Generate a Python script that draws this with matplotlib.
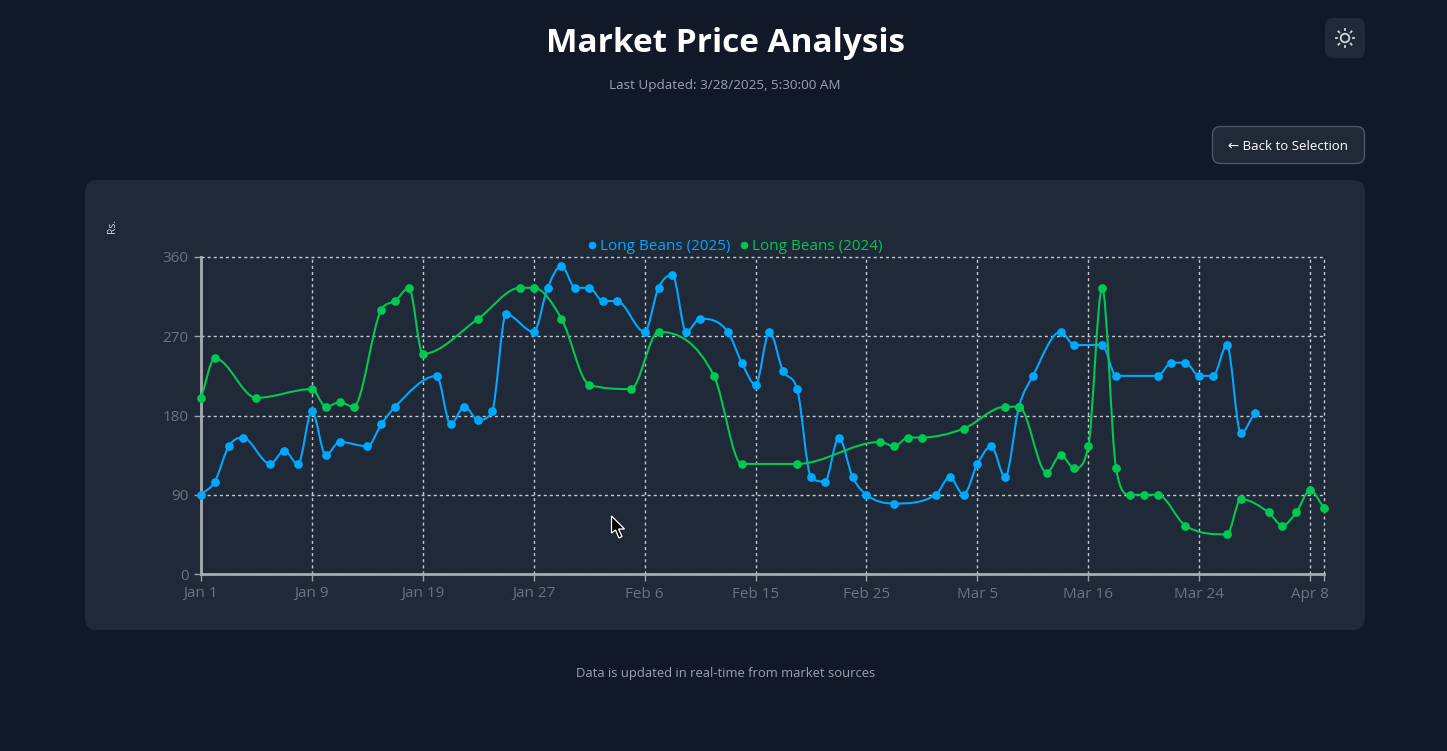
import numpy as np
import matplotlib
matplotlib.use('Agg')
import matplotlib.pyplot as plt
from matplotlib.lines import Line2D
from matplotlib.patches import FancyBboxPatch, PathPatch, Polygon, Circle
from matplotlib.path import Path

plt.rcParams['font.family'] = ['Open Sans', 'DejaVu Sans']

tick_pos = [0, 8, 16, 24, 32, 40, 48, 56, 64, 72, 80, 81]
tick_labels = ['Jan 1', 'Jan 9', 'Jan 19', 'Jan 27', 'Feb 6', 'Feb 15', 'Feb 25',
               'Mar 5', 'Mar 16', 'Mar 24', 'Apr 8', '']
y_ticks = [0, 90, 180, 270, 360]

price_2025 = [90, 105, 145, 155, None, 125, 140, 125, 185, 135,
              150, None, 145, 170, 190, None, None, 225, 170, 190,
              175, 185, 295, None, 275, 325, 350, 325, 325, 310,
              310, None, 275, 325, 340, 275, 290, None, 275, 240,
              215, 275, 230, 210, 110, 105, 155, 110, 90, None,
              80, None, None, 90, 110, 90, 125, 145, 110, 190,
              225, None, 275, 260, None, 260, 225, None, None, 225,
              240, 240, 225, 225, 260, 160, 183, None, None, None,
              None, None]
price_2024 = [200, 245, None, None, 200, None, None, None, 210, 190,
              195, 190, None, 300, 310, 325, 250, None, None, None,
              290, None, None, 325, 325, None, 290, None, 215, None,
              None, 210, None, 275, None, None, None, 225, None, 125,
              None, None, None, 125, None, None, None, None, None, 150,
              145, 155, 155, None, None, 165, None, None, 190, 190,
              None, 115, 135, 120, 145, 325, 120, 90, 90, 90,
              None, 55, None, None, 45, 85, None, 70, 55, 70,
              95, 75]

BLUE = '#00a8ff'
GREEN = '#00c853'
W, H = 1447, 751


def monotone_path(xs, ys):
    # monotone cubic, the way chart.js does it
    n = len(xs)
    dk = np.diff(ys) / np.diff(xs)
    m = np.zeros(n)
    m[0] = dk[0]
    m[-1] = dk[-1]
    for i in range(1, n - 1):
        if np.sign(dk[i - 1]) == np.sign(dk[i]):
            m[i] = (dk[i - 1] + dk[i]) / 2
    for i in range(n - 1):
        if dk[i] == 0:
            m[i] = m[i + 1] = 0
            continue
        a = m[i] / dk[i]
        b = m[i + 1] / dk[i]
        mag = a * a + b * b
        if mag > 9:
            tau = 3 / np.sqrt(mag)
            m[i] = a * tau * dk[i]
            m[i + 1] = b * tau * dk[i]
    verts = [(xs[0], ys[0])]
    codes = [Path.MOVETO]
    for i in range(n - 1):
        dx = (xs[i + 1] - xs[i]) / 3
        verts += [(xs[i] + dx, ys[i] + m[i] * dx),
                  (xs[i + 1] - dx, ys[i + 1] - m[i + 1] * dx),
                  (xs[i + 1], ys[i + 1])]
        codes += [Path.CURVE4, Path.CURVE4, Path.CURVE4]
    return Path(verts, codes)


def draw_series(ax, values, color, z):
    y = np.array(values, dtype=float)
    x = np.arange(len(y))
    keep = ~np.isnan(y)
    ax.add_patch(PathPatch(monotone_path(x[keep], y[keep]), fc='none', ec=color,
                           lw=1.5, clip_on=False, zorder=z))
    ax.plot(x[keep], y[keep], ls='none', marker='o', ms=6.3, color=color, mew=0,
            clip_on=False, zorder=z + 0.1)


fig = plt.figure(figsize=(W / 100, H / 100), dpi=100, facecolor='#111827')

# page furniture, in pixel coordinates
bg = fig.add_axes([0, 0, 1, 1], zorder=0)
bg.set_xlim(0, W)
bg.set_ylim(H, 0)
bg.axis('off')


def box(x0, y0, x1, y1, r, fc, ec='none'):
    bg.add_patch(FancyBboxPatch((x0 + r, y0 + r), x1 - x0 - 2 * r, y1 - y0 - 2 * r,
                                boxstyle=f'round,pad={r},rounding_size={r}',
                                fc=fc, ec=ec, lw=1))


box(85, 180, 1365, 630, 12, '#1f2937')
box(1325, 18, 1365, 58, 8, '#1f2937')
box(1212.5, 126.5, 1364.5, 163.5, 8, '#1f2937', '#4b5563')

bg.text(726, 43.5, 'Market Price Analysis', color='white', fontsize=24, fontweight='bold',
        ha='center', va='center')
bg.text(724.5, 86, 'Last Updated: 3/28/2025, 5:30:00 AM', color='#9ca3af', fontsize=9.7,
        ha='center', va='center')
bg.text(1288.5, 146.5, '← Back to Selection', color='white', fontsize=9.5,
        ha='center', va='center')
bg.text(725.5, 674, 'Data is updated in real-time from market sources', color='#9ca3af',
        fontsize=9.35, ha='center', va='center')
bg.text(112, 226, 'Rs.', color='#d1d5db', fontsize=7.5, rotation=90,
        ha='center', va='center')

# sun icon
bg.add_patch(Circle((1345, 38), 4.3, fc='none', ec='#d1d5db', lw=1.3))
for a in np.arange(8) * np.pi / 4:
    bg.plot([1345 + 8 * np.cos(a), 1345 + 9.3 * np.cos(a)],
            [38 + 8 * np.sin(a), 38 + 9.3 * np.sin(a)], color='#d1d5db', lw=1.3)

# chart
ax = fig.add_axes([201 / W, (H - 574) / H, 1123 / W, 317 / H], zorder=1)
ax.patch.set_alpha(0)
ax.set_xlim(0, 81)
ax.set_ylim(0, 360)
ax.set_xticks(tick_pos)
ax.set_xticklabels(tick_labels)
ax.set_yticks(y_ticks)
ax.tick_params(colors='#9ca3af', labelcolor='#6b7280', labelsize=11, length=5, width=1, pad=4)
ax.grid(True, color='#c4c8ce', lw=1, ls=(0, (2.2, 2.2)))
for line in ax.get_xgridlines() + ax.get_ygridlines():
    line.set_clip_on(False)
for side in ['top', 'right']:
    ax.spines[side].set_visible(False)
for side in ['left', 'bottom']:
    ax.spines[side].set_color('#a7abb2')
    ax.spines[side].set_linewidth(2)

draw_series(ax, price_2025, BLUE, 3)
draw_series(ax, price_2024, GREEN, 4)

handles = [Line2D([], [], ls='none', marker='o', ms=5.5, mew=0, color=BLUE),
           Line2D([], [], ls='none', marker='o', ms=5.5, mew=0, color=GREEN)]
ax.legend(handles, ['Long Beans (2025)', 'Long Beans (2024)'], ncol=2, frameon=False,
          loc='center', bbox_to_anchor=(0.4755, 1.033), labelcolor='linecolor', fontsize=11,
          handlelength=0.6, handletextpad=0.2, columnspacing=0.65, borderpad=0)

# mouse pointer from the screenshot
pointer = [(611.5, 516), (611.5, 533), (615.5, 530), (619, 538), (622, 536.5),
           (618.5, 529), (624.5, 529)]
fig.add_artist(Polygon(pointer, closed=True, fc='black', ec='white', lw=0.9,
                       transform=bg.transData, zorder=5))

fig.savefig('out.png', dpi=100, facecolor=fig.get_facecolor())
